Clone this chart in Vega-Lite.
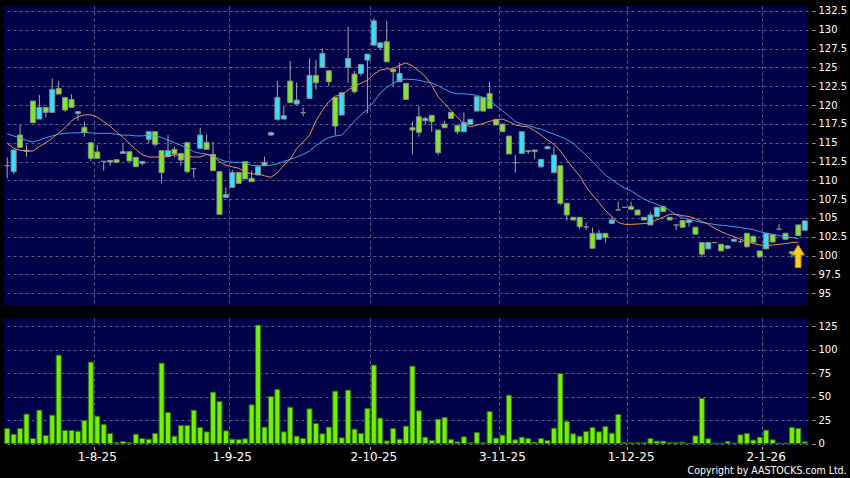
{
  "$schema": "https://vega.github.io/schema/vega-lite/v6.json",
  "width": 804,
  "height": 437.5,
  "autosize": {"type": "none"},
  "padding": {"left": 4, "top": 6, "right": 42, "bottom": 34.5},
  "background": "#000000",
  "title": {"text": "Copyright by AASTOCKS.com Ltd.", "orient": "bottom", "anchor": "end", "frame": "bounds", "font": "DejaVu Sans Condensed, DejaVu Sans", "fontSize": 10.5, "fontWeight": "normal", "color": "#ffffff", "offset": 3},
  "datasets": {
    "k": [
      {"d":"14-7-25","o":111.95,"h":113.05,"l":110.27,"c":111.95,"v":16.0,"m10":114.9,"m20":116.2},
      {"d":"15-7-25","o":111.15,"h":114.03,"l":110.84,"c":114.03,"v":9.9,"m10":114.25,"m20":115.9},
      {"d":"16-7-25","o":116.02,"h":117.35,"l":114.38,"c":114.38,"v":16.0,"m10":114.0,"m20":115.6},
      {"d":"17-7-25","o":114.0,"h":114.69,"l":113.14,"c":113.85,"v":31.3,"m10":113.9,"m20":115.3},
      {"d":"18-7-25","o":120.53,"h":120.53,"l":117.65,"c":117.65,"v":5.3,"m10":113.9,"m20":115.1},
      {"d":"21-7-25","o":118.14,"h":121.33,"l":118.14,"c":119.69,"v":35.5,"m10":114.5,"m20":115.35},
      {"d":"22-7-25","o":119.69,"h":119.69,"l":118.36,"c":119.03,"v":8.5,"m10":115.0,"m20":115.65},
      {"d":"23-7-25","o":119.03,"h":123.54,"l":119.03,"c":122.08,"v":30.2,"m10":115.6,"m20":115.9},
      {"d":"24-7-25","o":122.21,"h":123.19,"l":121.46,"c":121.46,"v":94.1,"m10":116.3,"m20":116.15},
      {"d":"25-7-25","o":121.02,"h":121.02,"l":119.12,"c":119.34,"v":13.9,"m10":117.0,"m20":116.24},
      {"d":"28-7-25","o":120.75,"h":121.42,"l":119.69,"c":119.69,"v":13.9,"m10":117.9,"m20":116.3},
      {"d":"29-7-25","o":118.89,"h":119.2,"l":117.92,"c":119.12,"v":13.1,"m10":118.45,"m20":116.3},
      {"d":"30-7-25","o":117.04,"h":117.79,"l":115.8,"c":116.33,"v":24.5,"m10":118.7,"m20":116.4},
      {"d":"31-7-25","o":115.0,"h":115.0,"l":112.57,"c":112.92,"v":86.7,"m10":118.7,"m20":116.3},
      {"d":"1-8-25","o":113.76,"h":114.69,"l":112.92,"c":112.92,"v":29.1,"m10":118.4,"m20":116.24},
      {"d":"4-8-25","o":112.52,"h":112.52,"l":111.28,"c":112.52,"v":20.2,"m10":117.8,"m20":116.24},
      {"d":"5-8-25","o":112.43,"h":112.65,"l":111.95,"c":112.65,"v":10.7,"m10":117.2,"m20":116.24},
      {"d":"6-8-25","o":112.74,"h":112.74,"l":112.39,"c":112.39,"v":1.0,"m10":116.4,"m20":116.1},
      {"d":"7-8-25","o":113.58,"h":114.82,"l":113.58,"c":113.81,"v":2.1,"m10":115.7,"m20":116.0},
      {"d":"8-8-25","o":113.81,"h":113.81,"l":112.57,"c":112.57,"v":1.0,"m10":114.9,"m20":116.0},
      {"d":"11-8-25","o":113.05,"h":113.05,"l":111.81,"c":111.81,"v":9.9,"m10":114.1,"m20":115.9},
      {"d":"12-8-25","o":112.26,"h":112.52,"l":111.95,"c":112.52,"v":5.3,"m10":113.4,"m20":115.9},
      {"d":"13-8-25","o":115.44,"h":116.46,"l":114.91,"c":116.46,"v":4.6,"m10":113.1,"m20":116.0},
      {"d":"14-8-25","o":116.46,"h":116.46,"l":114.47,"c":114.78,"v":10.7,"m10":113.1,"m20":115.9},
      {"d":"15-8-25","o":113.94,"h":113.94,"l":109.6,"c":111.02,"v":85.6,"m10":113.1,"m20":115.7},
      {"d":"18-8-25","o":113.14,"h":116.02,"l":113.14,"c":113.94,"v":33.0,"m10":113.2,"m20":115.35},
      {"d":"19-8-25","o":114.12,"h":114.47,"l":113.05,"c":113.5,"v":7.8,"m10":113.4,"m20":115.0},
      {"d":"20-8-25","o":113.58,"h":113.58,"l":111.95,"c":112.7,"v":19.2,"m10":113.3,"m20":114.65},
      {"d":"21-8-25","o":115.0,"h":115.13,"l":110.93,"c":111.15,"v":19.2,"m10":113.2,"m20":114.3},
      {"d":"22-8-25","o":111.55,"h":111.55,"l":110.35,"c":111.55,"v":35.5,"m10":113.1,"m20":113.8},
      {"d":"25-8-25","o":114.25,"h":117.0,"l":114.25,"c":116.02,"v":17.1,"m10":113.1,"m20":113.6},
      {"d":"26-8-25","o":115.04,"h":116.11,"l":114.12,"c":114.12,"v":12.4,"m10":113.45,"m20":113.5},
      {"d":"27-8-25","o":113.45,"h":115.13,"l":111.28,"c":111.28,"v":54.7,"m10":113.2,"m20":113.2},
      {"d":"28-8-25","o":111.15,"h":111.15,"l":105.49,"c":105.49,"v":44.8,"m10":112.5,"m20":112.8},
      {"d":"29-8-25","o":107.74,"h":109.07,"l":107.74,"c":108.1,"v":13.5,"m10":112.0,"m20":112.5},
      {"d":"1-9-25","o":109.07,"h":111.37,"l":109.07,"c":111.06,"v":4.6,"m10":111.8,"m20":112.4},
      {"d":"2-9-25","o":111.06,"h":111.06,"l":109.6,"c":109.6,"v":4.3,"m10":111.6,"m20":112.4},
      {"d":"3-9-25","o":112.48,"h":112.48,"l":110.18,"c":110.18,"v":5.0,"m10":111.15,"m20":112.25},
      {"d":"4-9-25","o":110.27,"h":111.28,"l":109.82,"c":109.82,"v":41.2,"m10":110.85,"m20":112.0},
      {"d":"5-9-25","o":110.71,"h":111.81,"l":110.71,"c":111.81,"v":126.1,"m10":110.85,"m20":111.95},
      {"d":"8-9-25","o":111.95,"h":113.14,"l":111.95,"c":112.39,"v":17.4,"m10":110.6,"m20":111.95},
      {"d":"9-9-25","o":116.02,"h":116.46,"l":115.88,"c":116.33,"v":50.1,"m10":110.4,"m20":112.0},
      {"d":"10-9-25","o":118.1,"h":123.19,"l":117.92,"c":121.02,"v":57.5,"m10":111.0,"m20":112.2},
      {"d":"11-9-25","o":118.14,"h":119.87,"l":118.14,"c":118.58,"v":12.4,"m10":112.0,"m20":112.5},
      {"d":"12-9-25","o":123.19,"h":125.84,"l":120.31,"c":120.31,"v":38.7,"m10":112.8,"m20":112.8},
      {"d":"15-9-25","o":120.13,"h":123.01,"l":120.13,"c":120.66,"v":7.8,"m10":114.2,"m20":113.1},
      {"d":"16-9-25","o":118.98,"h":119.69,"l":118.54,"c":118.98,"v":5.3,"m10":115.1,"m20":113.45},
      {"d":"17-9-25","o":120.88,"h":126.19,"l":120.88,"c":123.94,"v":36.9,"m10":116.0,"m20":113.9},
      {"d":"18-9-25","o":123.94,"h":125.97,"l":122.08,"c":122.96,"v":21.3,"m10":117.9,"m20":114.6},
      {"d":"19-9-25","o":125.0,"h":127.52,"l":125.0,"c":126.86,"v":10.3,"m10":119.3,"m20":115.2},
      {"d":"22-9-25","o":124.56,"h":124.56,"l":122.52,"c":123.1,"v":17.4,"m10":120.45,"m20":115.7},
      {"d":"23-9-25","o":121.02,"h":121.02,"l":116.02,"c":117.21,"v":55.8,"m10":121.2,"m20":115.9},
      {"d":"24-9-25","o":118.67,"h":121.64,"l":118.67,"c":121.64,"v":6.0,"m10":121.3,"m20":116.0},
      {"d":"25-9-25","o":125.0,"h":130.4,"l":122.96,"c":126.19,"v":56.8,"m10":122.0,"m20":116.9},
      {"d":"26-9-25","o":124.12,"h":124.51,"l":121.55,"c":121.77,"v":15.3,"m10":122.5,"m20":117.9},
      {"d":"29-9-25","o":124.2,"h":125.4,"l":123.85,"c":125.4,"v":10.7,"m10":122.9,"m20":118.7},
      {"d":"30-9-25","o":125.97,"h":126.77,"l":118.89,"c":126.77,"v":37.3,"m10":123.3,"m20":119.4},
      {"d":"2-10-25","o":127.96,"h":131.5,"l":127.96,"c":131.19,"v":83.5,"m10":124.1,"m20":120.45},
      {"d":"3-10-25","o":127.65,"h":128.27,"l":127.3,"c":128.27,"v":27.0,"m10":124.65,"m20":121.6},
      {"d":"6-10-25","o":128.41,"h":131.19,"l":125.75,"c":125.75,"v":2.8,"m10":124.8,"m20":122.35},
      {"d":"8-10-25","o":124.73,"h":124.73,"l":122.52,"c":124.42,"v":16.0,"m10":124.8,"m20":122.9},
      {"d":"9-10-25","o":123.1,"h":125.62,"l":123.1,"c":124.2,"v":4.6,"m10":125.3,"m20":123.3},
      {"d":"10-10-25","o":122.88,"h":122.88,"l":120.75,"c":120.75,"v":18.5,"m10":125.6,"m20":123.45},
      {"d":"13-10-25","o":116.99,"h":117.79,"l":113.45,"c":116.68,"v":82.4,"m10":125.2,"m20":123.4},
      {"d":"14-10-25","o":118.45,"h":119.87,"l":115.8,"c":116.37,"v":34.8,"m10":124.55,"m20":123.3},
      {"d":"15-10-25","o":117.92,"h":118.45,"l":117.35,"c":118.23,"v":6.7,"m10":123.8,"m20":123.1},
      {"d":"16-10-25","o":118.63,"h":118.63,"l":116.46,"c":117.79,"v":3.2,"m10":122.65,"m20":122.95},
      {"d":"17-10-25","o":116.68,"h":116.68,"l":113.36,"c":113.67,"v":25.9,"m10":121.1,"m20":122.55},
      {"d":"20-10-25","o":117.48,"h":117.92,"l":116.99,"c":116.99,"v":27.7,"m10":120.2,"m20":122.1},
      {"d":"21-10-25","o":119.03,"h":119.03,"l":118.23,"c":118.23,"v":4.3,"m10":119.25,"m20":121.7},
      {"d":"22-10-25","o":117.3,"h":117.3,"l":116.11,"c":116.46,"v":1.8,"m10":118.35,"m20":121.5},
      {"d":"23-10-25","o":116.46,"h":119.03,"l":116.46,"c":117.65,"v":7.1,"m10":117.55,"m20":121.5},
      {"d":"24-10-25","o":117.43,"h":118.1,"l":117.43,"c":118.1,"v":0.7,"m10":117.1,"m20":121.4},
      {"d":"27-10-25","o":119.2,"h":121.11,"l":119.2,"c":121.11,"v":11.7,"m10":117.35,"m20":121.3},
      {"d":"28-10-25","o":121.02,"h":121.02,"l":119.2,"c":119.2,"v":0.7,"m10":117.55,"m20":121.0},
      {"d":"30-10-25","o":121.55,"h":123.1,"l":119.56,"c":119.56,"v":34.1,"m10":117.85,"m20":120.6},
      {"d":"31-10-25","o":118.1,"h":118.1,"l":117.35,"c":117.35,"v":5.7,"m10":118.0,"m20":119.9},
      {"d":"3-11-25","o":117.48,"h":117.48,"l":116.46,"c":116.46,"v":8.9,"m10":118.15,"m20":119.25},
      {"d":"4-11-25","o":115.88,"h":115.88,"l":113.5,"c":113.5,"v":51.5,"m10":117.8,"m20":118.55},
      {"d":"5-11-25","o":112.35,"h":113.36,"l":111.02,"c":112.35,"v":3.9,"m10":117.35,"m20":117.8},
      {"d":"6-11-25","o":113.58,"h":116.46,"l":113.58,"c":116.46,"v":6.7,"m10":117.2,"m20":117.5},
      {"d":"7-11-25","o":113.81,"h":113.94,"l":113.5,"c":113.94,"v":5.3,"m10":117.1,"m20":117.3},
      {"d":"10-11-25","o":113.81,"h":114.03,"l":112.79,"c":114.03,"v":1.4,"m10":116.6,"m20":117.0},
      {"d":"11-11-25","o":111.81,"h":112.79,"l":111.59,"c":112.79,"v":5.3,"m10":116.0,"m20":116.8},
      {"d":"12-11-25","o":114.2,"h":114.6,"l":114.1,"c":114.47,"v":3.2,"m10":115.35,"m20":116.45},
      {"d":"13-11-25","o":111.02,"h":114.47,"l":111.02,"c":113.36,"v":16.3,"m10":114.8,"m20":116.15},
      {"d":"14-11-25","o":111.95,"h":111.95,"l":106.73,"c":106.95,"v":74.6,"m10":113.9,"m20":115.8},
      {"d":"17-11-25","o":106.95,"h":106.95,"l":104.65,"c":105.4,"v":23.4,"m10":112.7,"m20":115.45},
      {"d":"18-11-25","o":105.09,"h":105.09,"l":104.73,"c":104.73,"v":10.3,"m10":111.6,"m20":114.9},
      {"d":"19-11-25","o":105.09,"h":105.09,"l":103.5,"c":103.85,"v":7.8,"m10":110.6,"m20":114.1},
      {"d":"20-11-25","o":103.81,"h":104.38,"l":103.41,"c":103.81,"v":12.8,"m10":109.15,"m20":113.35},
      {"d":"21-11-25","o":102.96,"h":103.72,"l":100.97,"c":100.97,"v":17.1,"m10":108.05,"m20":112.5},
      {"d":"24-11-25","o":102.17,"h":103.41,"l":102.17,"c":102.96,"v":12.4,"m10":107.05,"m20":111.6},
      {"d":"25-11-25","o":102.96,"h":102.96,"l":101.73,"c":102.39,"v":18.1,"m10":106.0,"m20":110.7},
      {"d":"26-11-25","o":104.29,"h":105.18,"l":104.29,"c":104.73,"v":11.0,"m10":105.2,"m20":110.1},
      {"d":"27-11-25","o":106.06,"h":107.17,"l":106.06,"c":106.06,"v":30.9,"m10":104.4,"m20":109.5},
      {"d":"28-11-25","o":106.42,"h":106.42,"l":106.42,"c":106.42,"v":1.1,"m10":104.15,"m20":108.95},
      {"d":"1-12-25","o":106.5,"h":107.12,"l":106.15,"c":106.15,"v":0.7,"m10":104.15,"m20":108.6},
      {"d":"2-12-25","o":106.06,"h":106.06,"l":105.4,"c":105.4,"v":0.7,"m10":104.2,"m20":108.05},
      {"d":"3-12-25","o":105.09,"h":105.09,"l":104.73,"c":104.73,"v":1.1,"m10":104.25,"m20":107.5},
      {"d":"4-12-25","o":104.07,"h":105.84,"l":104.07,"c":105.4,"v":5.3,"m10":104.4,"m20":107.15},
      {"d":"5-12-25","o":105.18,"h":106.42,"l":105.18,"c":106.42,"v":2.5,"m10":104.75,"m20":106.8},
      {"d":"8-12-25","o":106.5,"h":106.5,"l":105.84,"c":105.84,"v":2.5,"m10":105.1,"m20":106.5},
      {"d":"9-12-25","o":105.09,"h":105.09,"l":104.73,"c":104.73,"v":1.1,"m10":105.5,"m20":106.0},
      {"d":"10-12-25","o":104.07,"h":104.07,"l":103.41,"c":104.07,"v":1.1,"m10":105.5,"m20":105.4},
      {"d":"11-12-25","o":104.65,"h":104.65,"l":103.76,"c":103.76,"v":1.4,"m10":105.3,"m20":105.05},
      {"d":"12-12-25","o":104.38,"h":104.73,"l":103.85,"c":104.73,"v":0,"m10":105.2,"m20":104.8},
      {"d":"15-12-25","o":103.77,"h":103.77,"l":102.84,"c":102.84,"v":8.2,"m10":104.9,"m20":104.6},
      {"d":"16-12-25","o":101.73,"h":101.73,"l":99.79,"c":100.19,"v":48.0,"m10":104.52,"m20":104.4},
      {"d":"17-12-25","o":100.89,"h":101.73,"l":100.89,"c":101.73,"v":5.0,"m10":104.17,"m20":104.3},
      {"d":"18-12-25","o":101.73,"h":101.8,"l":101.68,"c":101.73,"v":0.3,"m10":103.63,"m20":104.13},
      {"d":"19-12-25","o":101.51,"h":101.51,"l":100.62,"c":100.62,"v":0.3,"m10":103.19,"m20":104.04},
      {"d":"22-12-25","o":100.98,"h":101.4,"l":100.84,"c":101.29,"v":2.1,"m10":102.84,"m20":103.95},
      {"d":"23-12-25","o":101.91,"h":102.25,"l":101.86,"c":102.18,"v":0.3,"m10":102.52,"m20":103.85},
      {"d":"24-12-25","o":101.86,"h":102.1,"l":101.64,"c":101.86,"v":9.2,"m10":102.18,"m20":103.72},
      {"d":"29-12-25","o":102.97,"h":102.97,"l":100.98,"c":101.2,"v":10.7,"m10":101.87,"m20":103.59},
      {"d":"30-12-25","o":102.58,"h":102.58,"l":101.78,"c":101.78,"v":3.6,"m10":101.6,"m20":103.46},
      {"d":"31-12-25","o":100.62,"h":100.62,"l":99.7,"c":99.83,"v":6.7,"m10":101.42,"m20":103.19},
      {"d":"2-1-26","o":100.89,"h":102.97,"l":100.89,"c":102.97,"v":14.2,"m10":101.33,"m20":102.97},
      {"d":"5-1-26","o":102.8,"h":102.8,"l":101.8,"c":101.8,"v":3.9,"m10":101.42,"m20":102.84},
      {"d":"6-1-26","o":103.5,"h":104.17,"l":103.5,"c":103.5,"v":0.4,"m10":101.5,"m20":102.66},
      {"d":"7-1-26","o":102.97,"h":102.97,"l":102.18,"c":102.18,"v":0.4,"m10":101.6,"m20":102.52},
      {"d":"8-1-26","o":100.53,"h":100.53,"l":99.7,"c":100.27,"v":17.1,"m10":101.73,"m20":102.39},
      {"d":"9-1-26","o":104.08,"h":104.08,"l":102.66,"c":102.66,"v":16.0,"m10":101.78,"m20":102.26},
      {"d":"12-1-26","o":103.37,"h":104.61,"l":103.37,"c":104.61,"v":1.8,"m10":null,"m20":null}
    ],
    "gap": [{"top": 93.44, "bot": 91.67}],
    "marker": [{"d": "9-1-26", "p": 99.92}]
  },
  "data": {"name": "k"},
  "layer": [
    {
      "layer": [
        {
          "data": {"name": "gap"},
          "mark": {"type": "rect", "fill": "#000000"},
          "encoding": {
            "y": {"field": "top", "type": "quantitative", "title": null, "scale": {"domain": [75.04, 133.16], "nice": false, "zero": false},
              "axis": {"orient": "right", "values": [95, 97.5, 100, 102.5, 105, 107.5, 110, 112.5, 115, 117.5, 120, 122.5, 125, 127.5, 130, 132.5], "format": ".1~f", "labelFontSize": 10, "offset": 4, "tickSize": 3, "labelPadding": 3, "grid": true, "labelOverlap": false, "title": null}},
            "y2": {"field": "bot"}
          }
        },
        {
          "mark": {"type": "rule", "color": "#a8a8a8", "strokeWidth": 1},
          "encoding": {
            "x": {"field": "d", "type": "ordinal", "sort": null, "title": null,
              "scale": {"paddingInner": 0, "paddingOuter": 0},
              "axis": {"values": ["1-8-25", "1-9-25", "2-10-25", "3-11-25", "1-12-25", "2-1-26"], "bandPosition": 0, "labelAngle": 0, "labelFontSize": 12, "tickSize": 3, "offset": 3, "labelPadding": 2, "grid": true, "title": null}},
            "y": {"field": "h", "type": "quantitative", "title": null, "scale": {"domain": [75.04, 133.16], "nice": false, "zero": false},
              "axis": {"orient": "right", "values": [95, 97.5, 100, 102.5, 105, 107.5, 110, 112.5, 115, 117.5, 120, 122.5, 125, 127.5, 130, 132.5], "format": ".1~f", "labelFontSize": 10, "offset": 4, "tickSize": 3, "labelPadding": 3, "grid": true, "labelOverlap": false, "title": null}},
            "y2": {"field": "l"}
          }
        },
        {
          "mark": {"type": "bar", "width": 5, "stroke": "#8a8a8a", "strokeWidth": 1},
          "encoding": {
            "x": {"field": "d", "type": "ordinal", "sort": null, "title": null},
            "y": {"field": "o", "type": "quantitative", "title": null, "scale": {"domain": [75.04, 133.16], "nice": false, "zero": false},
              "axis": {"orient": "right", "values": [95, 97.5, 100, 102.5, 105, 107.5, 110, 112.5, 115, 117.5, 120, 122.5, 125, 127.5, 130, 132.5], "format": ".1~f", "labelFontSize": 10, "offset": 4, "tickSize": 3, "labelPadding": 3, "grid": true, "labelOverlap": false, "title": null}},
            "y2": {"field": "c"},
            "fill": {"condition": [{"test": "datum.c > datum.o", "value": "#33e0ff"}, {"test": "datum.c < datum.o", "value": "#80e82a"}], "value": "#a0a0a0"}
          }
        },
        {
          "mark": {"type": "line", "color": "#3ea2e6", "strokeWidth": 1},
          "encoding": {
            "x": {"field": "d", "type": "ordinal", "sort": null, "title": null},
            "y": {"field": "m20", "type": "quantitative", "title": null, "scale": {"domain": [75.04, 133.16], "nice": false, "zero": false},
              "axis": {"orient": "right", "values": [95, 97.5, 100, 102.5, 105, 107.5, 110, 112.5, 115, 117.5, 120, 122.5, 125, 127.5, 130, 132.5], "format": ".1~f", "labelFontSize": 10, "offset": 4, "tickSize": 3, "labelPadding": 3, "grid": true, "labelOverlap": false, "title": null}}
          }
        },
        {
          "mark": {"type": "line", "color": "#e8925e", "strokeWidth": 1},
          "encoding": {
            "x": {"field": "d", "type": "ordinal", "sort": null, "title": null},
            "y": {"field": "m10", "type": "quantitative", "title": null, "scale": {"domain": [75.04, 133.16], "nice": false, "zero": false},
              "axis": {"orient": "right", "values": [95, 97.5, 100, 102.5, 105, 107.5, 110, 112.5, 115, 117.5, 120, 122.5, 125, 127.5, 130, 132.5], "format": ".1~f", "labelFontSize": 10, "offset": 4, "tickSize": 3, "labelPadding": 3, "grid": true, "labelOverlap": false, "title": null}}
          }
        },
        {
          "data": {"name": "marker"},
          "mark": {"type": "point", "shape": "M0,-1 L0.55,-0.1 L0.25,-0.1 L0.25,1 L-0.25,1 L-0.25,-0.1 L-0.55,-0.1 Z", "size": 515, "filled": true, "fill": "#f7d117", "stroke": "#d08a00", "strokeWidth": 1, "opacity": 1},
          "encoding": {
            "x": {"field": "d", "type": "ordinal", "sort": null, "title": null},
            "xOffset": {"value": 3},
            "y": {"field": "p", "type": "quantitative", "title": null, "scale": {"domain": [75.04, 133.16], "nice": false, "zero": false},
              "axis": {"orient": "right", "values": [95, 97.5, 100, 102.5, 105, 107.5, 110, 112.5, 115, 117.5, 120, 122.5, 125, 127.5, 130, 132.5], "format": ".1~f", "labelFontSize": 10, "offset": 4, "tickSize": 3, "labelPadding": 3, "grid": true, "labelOverlap": false, "title": null}}
          }
        }
      ]
    },
    {
      "mark": {"type": "bar", "width": 5, "fill": "#74f000", "stroke": "#2e6e10", "strokeWidth": 1},
      "encoding": {
        "x": {"field": "d", "type": "ordinal", "sort": null, "title": null},
        "y": {"field": "v", "type": "quantitative", "title": null, "scale": {"domain": [0, 466.2], "nice": false, "zero": true},
          "axis": {"orient": "right", "values": [0, 25, 50, 75, 100, 125], "format": "d", "labelFontSize": 10, "offset": 4, "tickSize": 3, "labelPadding": 3, "grid": true, "labelOverlap": false, "title": null}}
      }
    }
  ],
  "resolve": {"scale": {"y": "independent"}, "axis": {"y": "independent"}},
  "config": {
    "view": {"fill": "#000048", "stroke": null},
    "axis": {"domain": false, "gridColor": "#5e5e8e", "gridDash": [3, 3], "gridOpacity": 1, "gridWidth": 1, "tickColor": "#aaaaaa", "labelColor": "#ffffff", "labelFont": "DejaVu Sans", "titleFont": "DejaVu Sans"}
  }
}
